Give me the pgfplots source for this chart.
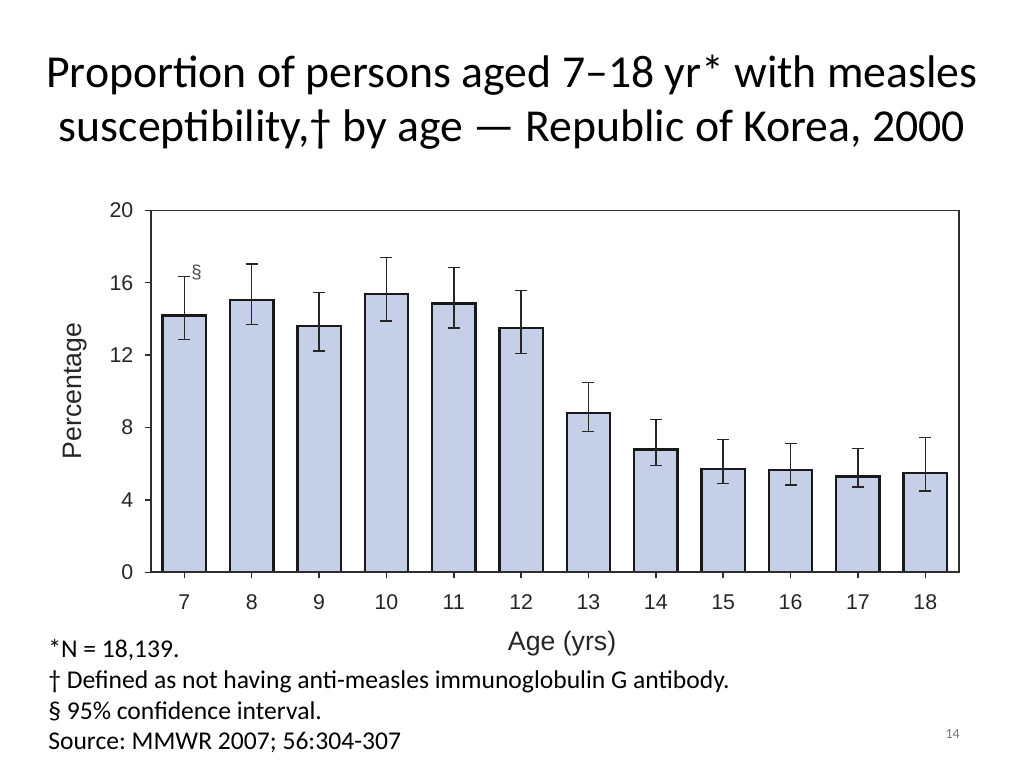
\documentclass[border=0pt]{standalone}
\usepackage{fontspec}
\setmainfont{Carlito}
\newfontfamily\arialf{Liberation Sans}
\usepackage{pgfplots}
\pgfplotsset{compat=1.18}
\definecolor{barfill}{HTML}{C6CFE8}
\definecolor{framegray}{HTML}{2E2E2E}
\frenchspacing
\begin{document}
\begin{tikzpicture}
\path[use as bounding box] (0,0) rectangle (768pt,576pt);
% title
\node[align=center, font=\fontsize{34.3}{40.5}\selectfont, anchor=base] at (384pt,469.5pt) {Proportion of persons aged 7--18 yr* with measles\\susceptibility,\textdagger{} by age --- Republic of Korea, 2000};
\begin{axis}[
  at={(113pt,146.8pt)}, anchor=south west,
  scale only axis, width=606.2pt, height=271.5pt,
  xmin=6.5, xmax=18.5, ymin=0, ymax=20,
  xtick={7,...,18}, ytick={0,4,...,20},
  tick pos=left, tick align=outside,
  major tick length=4.5pt,
  tick style={framegray, line width=1.1pt},
  axis line style={framegray, line width=1pt},
  ticklabel style={font=\fontsize{16}{18}\selectfont\arialf, text=black!85},
  /pgf/number format/assume math mode=true,
  xticklabel style={yshift=-9pt},
  yticklabel style={xshift=-5pt},
  xlabel={Age (yrs)}, ylabel={Percentage},
  every axis x label/.style={at={(axis description cs:0.509,0)}, anchor=center, yshift=-53.3pt, font=\fontsize{20}{22}\selectfont\arialf, text=black!85},
  every axis y label/.style={at={(axis description cs:-0.0937,0.5)}, rotate=90, anchor=center, font=\fontsize{20}{22}\selectfont\arialf, text=black!85},
  clip=false,
]
\addplot[ybar, bar width=32.5pt, fill=barfill, draw=black!90, line width=1.8pt,
  error bars/.cd, y dir=both, y explicit,
  error bar style={line width=1.1pt, black!85},
  error mark options={rotate=90, mark size=4.5pt, line width=1.1pt, black!85}]
coordinates {
 (7,14.18)  += (0,2.15) -= (0,1.31)
 (8,15.04)  += (0,1.99) -= (0,1.36)
 (9,13.61)  += (0,1.84) -= (0,1.38)
 (10,15.39) += (0,2.01) -= (0,1.52)
 (11,14.84) += (0,1.99) -= (0,1.34)
 (12,13.51) += (0,2.07) -= (0,1.43)
 (13,8.80)  += (0,1.68) -= (0,1.03)
 (14,6.79)  += (0,1.66) -= (0,0.90)
 (15,5.69)  += (0,1.64) -= (0,0.79)
 (16,5.64)  += (0,1.47) -= (0,0.82)
 (17,5.30)  += (0,1.55) -= (0,0.59)
 (18,5.49)  += (0,1.95) -= (0,1.00)
};
\draw[framegray, line width=1.5pt] (rel axis cs:0,1) -- (rel axis cs:0,0) -- (rel axis cs:1,0) -- (rel axis cs:1,1);
\draw[framegray, line width=1pt] (rel axis cs:0,1) -- (rel axis cs:1,1);
\node[anchor=center, font=\fontsize{14}{16}\selectfont\arialf, text=black!70] at (axis cs:7.18,16.55) {\textsection};
\end{axis}
% footnotes
\begin{scope}[every node/.style={anchor=base west, inner sep=0pt, font=\fontsize{19.2}{22}\selectfont}]
\node at (36pt,83.25pt) {*N = 18,139.};
\node at (36pt,60pt) {\textdagger{} Defined as not having anti-measles immunoglobulin G antibody.};
\node at (36pt,36.75pt) {\textsection{} 95\% confidence interval.};
\node at (36pt,14.25pt) {Source: MMWR 2007; 56:304-307};
\end{scope}
\node[anchor=base east, inner sep=0pt, font=\fontsize{10.5}{12}\selectfont, text=black!55] at (720pt,22pt) {14};
\end{tikzpicture}
\end{document}
